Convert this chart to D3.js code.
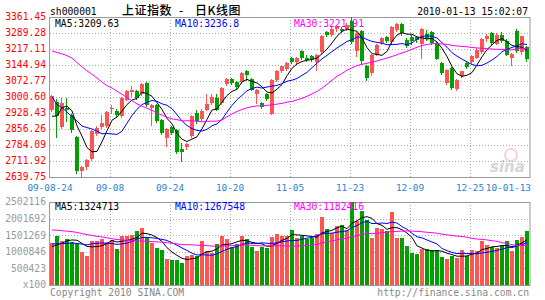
<!DOCTYPE html>
<html>
<head>
<meta charset="utf-8">
<script src="https://cdn.jsdelivr.net/npm/d3@7/dist/d3.min.js"></script>
<style>
  body { margin: 0; background: #fff; }
  svg { display: block; }
  text { font-family: "DejaVu Sans Mono", "Liberation Mono", monospace; font-size: 9.7px; }
</style>
</head>
<body>
<svg id="chart" width="545" height="300"></svg>
<script>
// daily candles, 2009-08-24 .. 2010-01-13
const open = [2943,2980,2868,2951,2921,2821,2664,2683,2720,2835,2864,2868,2948,2939,2913,2989,3026,3026,3014,3064,2951,2963,2898,2816,
  2865,2853,2768,2774,2823,2928,2898,2944,2974,2996,2974,3059,3083,3068,3068,3119,3083,3014,2974,3014,2924,3079,3116,3127,
  3176,3159,3207,3177,3184,3159,3204,3294,3282,3304,3309,3309,3345,3207,3297,3139,3109,3191,3244,3270,3249,3304,3330,3259,
  3270,3270,3240,3285,3294,3244,3154,3064,3131,3038,3094,3154,3159,3180,3205,3262,3289,3243,3282,3254,3180,3300,3200,3226];
const high = [3008,2990,2996,2996,2925,2825,2690,2722,2853,2870,2918,2937,2966,2945,3000,3033,3049,3030,3066,3068,2970,2968,2902,2862,
  2872,2858,2793,2795,2918,2940,2945,3014,3014,3014,3045,3087,3088,3072,3112,3124,3088,3038,2980,3020,3082,3122,3142,3158,
  3180,3180,3212,3192,3190,3195,3280,3300,3315,3322,3318,3335,3361.45,3292,3302,3145,3195,3240,3270,3275,3320,3334,3335,3265,
  3280,3278,3312,3304,3298,3250,3160,3128,3135,3083,3120,3160,3190,3220,3265,3284,3295,3290,3295,3260,3200,3306,3277,3230];
const low = [2938,2822,2860,2891,2844,2660,2639.75,2676,2718,2830,2860,2865,2928,2916,2910,2985,3004,2990,3010,2962,2873,2887,2835,2778,
  2835,2748,2712,2765,2820,2885,2895,2940,2970,2940,2970,3055,3060,3040,3064,3079,3030,2974,2950,2988,2922,3075,3112,3124,
  3155,3155,3170,3162,3165,3124,3200,3275,3278,3300,3295,3305,3245,3185,3150,3079,3100,3188,3240,3248,3245,3300,3280,3228,
  3238,3250,3177,3259,3240,3170,3105,3060,3036,3034,3090,3130,3155,3176,3200,3255,3238,3240,3250,3190,3145,3205,3195,3165];
const close = [3004,2915,2974,2944,2853,2666,2684,2716,2848,2862,2883,2933,2953,2921,2996,3029,3034,2993,3059,2966,2966,2891,2841,2858,
  2840,2756,2756,2789,2913,2891,2936,2969,2999,2944,3041,3083,3064,3044,3109,3101,3034,3034,2954,2993,3079,3119,3139,3154,
  3159,3177,3174,3169,3169,3192,3274,3279,3309,3319,3300,3327,3252,3289,3162,3086,3191,3236,3267,3252,3315,3330,3289,3234,
  3250,3255,3309,3264,3244,3174,3109,3124,3041,3079,3116,3134,3184,3214,3263,3277,3243,3282,3254,3193,3196,3212,3274,3173];
const volume = [1275000,1486000,1336000,1387000,1305000,1236000,1004000,874000,1336000,1336000,1387000,1305000,1356000,1085000,1477000,1477000,
  1507000,1628000,1727000,1408000,1257000,1125000,1055000,784000,754000,754000,673000,874000,904000,874000,1336000,1025000,
  975000,1236000,1487000,1387000,1156000,1236000,1487000,1387000,1156000,1025000,1156000,1105000,1450000,1537000,1477000,1477000,
  1658000,1407000,1477000,1377000,1407000,1537000,2060000,1678000,1557000,1779000,1809000,1658000,2502116,1940000,2241000,1960000,
  1407000,1708000,1678000,1638000,2211000,1407000,1407000,1176000,975000,935000,1075000,1075000,1055000,1055000,834000,774000,
  874000,804000,1055000,874000,1055000,1025000,1336000,1206000,1135000,1105000,1176000,1326000,1035000,1357000,1457000,1628000];

// the 29 sessions before the window, only feed the moving averages
const prevClose = [3124,3168,3177,3189,3266,3260,3266,3305,3372,3435,3412,3266,3360,3412,3463,3471,3428,3356,3260,3245,
  3270,3112,3150,3046,2870,2910,2785,2911,2959];
const prevVolume = [1650000,1820000,1790000,1750000,1930000,2010000,1880000,1960000,2150000,2080000,1990000,2230000,1850000,1700000,
  1920000,2060000,1780000,1640000,1720000,1463000,1410000,1280000,1350000,1180000,1365000,1210000,1090000,1020000,1180000];

const priceTicks = ['3361.45','3289.28','3217.11','3144.94','3072.77','3000.60','2928.43','2856.26','2784.09','2711.92','2639.75'];
const volTicks = ['2502116','2001692','1501269','1000846','500423','x100'];
const dateTicks = ['09-08-24','09-08','09-24','10-20','11-05','11-23','12-09','12-25','10-01-13'];
const priceLegend = ['MA5:3209.63','MA10:3236.8','MA30:3221.91'];
const volLegend = ['MA5:1324713','MA10:1267548','MA30:1182416'];

const UP = '#ff5454', DOWN = '#00a000', GRID = '#aaa', BORDER = '#999';
const maColors = ['#000', '#0000ff', '#ff00ff'];
const maDays = [5, 10, 30];

const svg = d3.select('#chart');
const idx = d3.range(close.length);

const x = d3.scaleBand().domain(idx).range([50, 530])
  .paddingInner(0.2).paddingOuter(0.1).align(0);
const yP = d3.scaleLinear().domain([2639.75, 3361.45]).range([177, 17]);
const yV = d3.scaleLinear().domain([0, 2502116]).range([285, 202]);

function movingAvg(prev, vals, n) {
  const all = prev.concat(vals);
  return vals.map((v, i) => d3.mean(all.slice(prev.length + i - n + 1, prev.length + i + 1)));
}

// grids and frames
function panel(top, bottom, nLines) {
  const g = svg.append('g');
  const step = (bottom - top) / nLines;
  for (let k = 1; k < nLines; k++) {
    const yy = Math.round(top + k * step) + 0.5;
    g.append('line').attr('x1', 50).attr('x2', 530).attr('y1', yy).attr('y2', yy)
      .attr('stroke', GRID).attr('stroke-dasharray', '1,2');
  }
  for (let k = 1; k < 8; k++) {
    const xx = 50 + k * 12 * x.step() + 0.5;
    g.append('line').attr('x1', xx).attr('x2', xx).attr('y1', top).attr('y2', bottom)
      .attr('stroke', GRID).attr('stroke-dasharray', '1,2');
  }
  g.append('rect').attr('x', 49.5).attr('y', top + 0.5).attr('width', 480.5).attr('height', bottom - top)
    .attr('fill', 'none').attr('stroke', BORDER);
}
panel(17, 177, 10);
panel(202, 285, 5);

// price axis labels
svg.append('g').selectAll('text').data(priceTicks).join('text')
  .attr('x', 46).attr('y', (d, i) => 17 + i * 16)
  .attr('dy', '0.36em').attr('text-anchor', 'end').attr('fill', '#f00').text(d => d);

svg.append('g').selectAll('text').data(volTicks).join('text')
  .attr('x', 46).attr('y', (d, i) => 202 + i * 83 / 5)
  .attr('dy', '0.36em').attr('text-anchor', 'end').attr('fill', '#999').text(d => d);

// date labels, the last one sits flush with the right frame
const last = dateTicks.length - 1;
svg.append('g').selectAll('text').data(dateTicks).join('text')
  .attr('x', (d, i) => i === last ? 531 : 50 + i * 12 * x.step())
  .attr('y', 191)
  .attr('text-anchor', (d, i) => i === last ? 'end' : 'middle')
  .style('font-size', '9.4px')
  .attr('fill', '#1e86d6').text(d => d);

// watermark
const wm = svg.append('g').attr('opacity', 0.35);
wm.append('circle').attr('cx', 511).attr('cy', 155).attr('r', 6).attr('fill', 'none').attr('stroke', '#f08080').attr('stroke-width', 2);
wm.append('text').attr('x', 490).attr('y', 172).attr('fill', '#888')
  .style('font-family', 'DejaVu Sans').style('font-size', '15px').style('font-style', 'italic').style('font-weight', 'bold').text('sina');

// candles
const bw = x.bandwidth();
const candle = svg.append('g').selectAll('g').data(idx).join('g')
  .attr('fill', i => close[i] >= open[i] ? UP : DOWN)
  .attr('stroke', i => close[i] >= open[i] ? UP : DOWN);
candle.append('line')
  .attr('x1', i => x(i) + 1.5).attr('x2', i => x(i) + 1.5)
  .attr('y1', i => Math.round(yP(high[i]))).attr('y2', i => Math.round(yP(low[i])) + 1);
candle.append('rect')
  .attr('stroke', 'none')
  .attr('x', i => x(i)).attr('width', bw)
  .attr('y', i => Math.round(yP(Math.max(open[i], close[i]))))
  .attr('height', i => Math.max(1, Math.round(Math.abs(yP(open[i]) - yP(close[i])))));

// volume bars
svg.append('g').selectAll('rect').data(idx).join('rect')
  .attr('x', i => x(i)).attr('width', bw)
  .attr('y', i => Math.round(yV(volume[i])))
  .attr('height', i => 285 - Math.round(yV(volume[i])))
  .attr('fill', i => close[i] >= open[i] ? UP : DOWN);

// moving averages
maDays.forEach((n, k) => {
  const mp = movingAvg(prevClose, close, n);
  const mv = movingAvg(prevVolume, volume, n);
  svg.append('path').datum(mp).attr('fill', 'none').attr('stroke', maColors[k]).attr('stroke-width', 1)
    .attr('d', d3.line().x((d, i) => x(i) + 2).y(d => yP(d)));
  svg.append('path').datum(mv).attr('fill', 'none').attr('stroke', maColors[k]).attr('stroke-width', 1)
    .attr('d', d3.line().x((d, i) => x(i) + 2).y(d => yV(d)));
});

// legends and titles
const legendX = [55, 175, 294];
svg.append('g').selectAll('text').data(priceLegend).join('text')
  .attr('x', (d, i) => legendX[i]).attr('y', 27).attr('fill', (d, i) => maColors[i]).text(d => d);
svg.append('g').selectAll('text').data(volLegend).join('text')
  .attr('x', (d, i) => legendX[i]).attr('y', 210).attr('fill', (d, i) => maColors[i]).text(d => d);

svg.append('text').attr('x', 50).attr('y', 15).attr('fill', '#000').text('sh000001');
const titleParts = [['上证指数', 122], ['-', 179], ['日K线图', 195]];
svg.append('g').selectAll('text').data(titleParts).join('text')
  .attr('x', d => d[1]).attr('y', 15).attr('fill', '#000')
  .style('font-family', '"Noto Sans CJK SC"').style('font-size', '12px').style('font-weight', '500')
  .style('letter-spacing', '0.5px')
  .text(d => d[0]);
svg.append('text').attr('x', 528).attr('y', 15).attr('text-anchor', 'end').attr('fill', '#000').text('2010-01-13 15:02:07');
svg.append('text').attr('x', 50).attr('y', 296).attr('fill', '#888').text('Copyright 2010 SINA.COM');
svg.append('text').attr('x', 529).attr('y', 296).attr('text-anchor', 'end').attr('fill', '#888').text('http://finance.sina.com.cn');
</script>
</body>
</html>
